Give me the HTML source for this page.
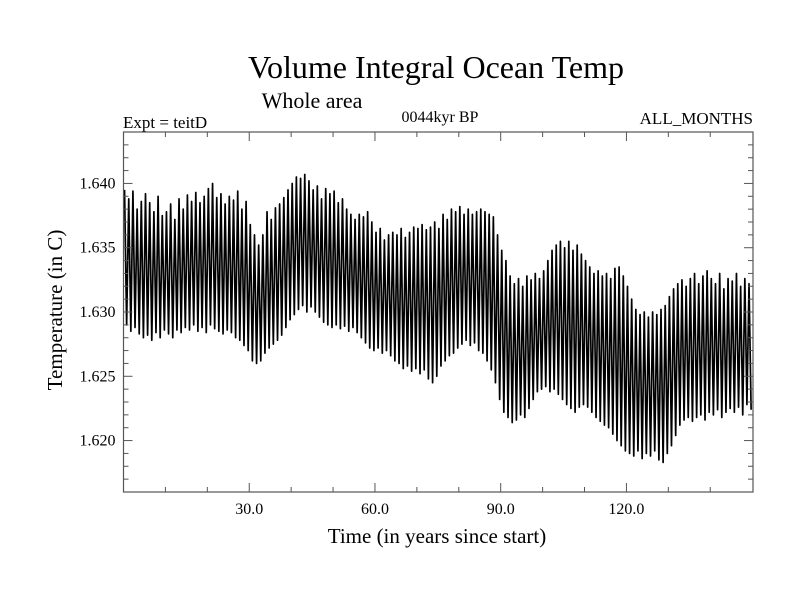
<!DOCTYPE html>
<html><head><meta charset="utf-8"><style>
body{margin:0;background:#fff;}
svg{display:block;font-family:"Liberation Serif",serif;}
</style></head><body>
<svg id="chart" width="800" height="600">
<text x="436" y="78" font-size="32" text-anchor="middle">Volume Integral Ocean Temp</text>
<text x="312" y="108" font-size="22" text-anchor="middle">Whole area</text>
<text x="123" y="128" font-size="17">Expt = teitD</text>
<text x="440" y="122" font-size="16" text-anchor="middle">0044kyr BP</text>
<text x="753" y="124" font-size="17" text-anchor="end">ALL_MONTHS</text>
<text x="437" y="543" font-size="21" text-anchor="middle">Time (in years since start)</text>
<text transform="translate(62,310) rotate(-90)" font-size="21" text-anchor="middle">Temperature (in C)</text>
<g id="series"></g>
<g id="axes"></g>
</svg>
<script>
const yearMax=[1.6395,1.6388,1.6394,1.6380,1.6386,1.6392,1.6385,1.6378,1.6390,1.6375,1.6378,1.6384,1.6372,1.6388,1.6380,1.6391,1.6386,1.6393,1.6385,1.6390,1.6396,1.6400,1.6389,1.6392,1.6384,1.6390,1.6387,1.6394,1.6380,1.6386,1.6368,1.6360,1.6352,1.6360,1.6378,1.6372,1.6381,1.6384,1.6389,1.6395,1.6400,1.6405,1.6404,1.6407,1.6402,1.6395,1.6398,1.6388,1.6396,1.6392,1.6394,1.6385,1.6388,1.6380,1.6376,1.6372,1.6376,1.6374,1.6378,1.6370,1.6362,1.6365,1.6356,1.6360,1.6362,1.6360,1.6365,1.6358,1.6362,1.6366,1.6365,1.6368,1.6364,1.6366,1.6370,1.6365,1.6376,1.6372,1.6380,1.6378,1.6382,1.6376,1.6380,1.6376,1.6378,1.6380,1.6378,1.6376,1.6374,1.6360,1.6348,1.6340,1.6328,1.6322,1.6326,1.6320,1.6328,1.6325,1.6330,1.6326,1.6332,1.6340,1.6348,1.6352,1.6355,1.6350,1.6355,1.6348,1.6352,1.6345,1.6340,1.6335,1.6330,1.6332,1.6328,1.6330,1.6326,1.6334,1.6335,1.6328,1.6320,1.6310,1.6302,1.6298,1.6300,1.6296,1.6300,1.6298,1.6302,1.6305,1.6312,1.6318,1.6322,1.6325,1.6320,1.6326,1.6330,1.6322,1.6328,1.6332,1.6326,1.6322,1.6330,1.6318,1.6326,1.6324,1.6330,1.6320,1.6326,1.6322];
const yearMin=[1.6290,1.6285,1.6288,1.6283,1.6280,1.6282,1.6278,1.6284,1.6280,1.6286,1.6283,1.6280,1.6286,1.6284,1.6288,1.6286,1.6290,1.6285,1.6288,1.6284,1.6290,1.6287,1.6285,1.6283,1.6286,1.6284,1.6280,1.6278,1.6274,1.6270,1.6262,1.6260,1.6262,1.6268,1.6272,1.6275,1.6278,1.6282,1.6288,1.6294,1.6298,1.6302,1.6305,1.6300,1.6304,1.6300,1.6296,1.6292,1.6290,1.6288,1.6290,1.6287,1.6289,1.6285,1.6288,1.6284,1.6280,1.6276,1.6272,1.6270,1.6272,1.6268,1.6270,1.6266,1.6262,1.6260,1.6256,1.6258,1.6254,1.6256,1.6252,1.6255,1.6248,1.6245,1.6250,1.6258,1.6262,1.6266,1.6268,1.6272,1.6275,1.6278,1.6274,1.6276,1.6270,1.6268,1.6262,1.6255,1.6245,1.6232,1.6222,1.6218,1.6214,1.6216,1.6220,1.6218,1.6225,1.6232,1.6238,1.6240,1.6242,1.6238,1.6240,1.6236,1.6232,1.6228,1.6225,1.6222,1.6226,1.6228,1.6226,1.6222,1.6218,1.6215,1.6212,1.6210,1.6205,1.6200,1.6196,1.6192,1.6190,1.6188,1.6192,1.6186,1.6190,1.6188,1.6192,1.6185,1.6183,1.6190,1.6196,1.6204,1.6212,1.6216,1.6218,1.6215,1.6218,1.6220,1.6216,1.6222,1.6220,1.6224,1.6218,1.6222,1.6225,1.6222,1.6226,1.6220,1.6228,1.6224];
const xTickValues=[30,60,90,120];
const xTickLabels=["30.0","60.0","90.0","120.0"];
const yTickValues=[1.620,1.625,1.630,1.635,1.640];
const yTickLabels=["1.620","1.625","1.630","1.635","1.640"];

const NS="http://www.w3.org/2000/svg";
const L=123.5,R=753,T=132,B=492;
const X0=0,X1=150.2,Y0=1.616,Y1=1.644;
const xs=v=>L+(v-X0)/(X1-X0)*(R-L);
const ys=v=>B-(v-Y0)/(Y1-Y0)*(B-T);
function mk(tag,attrs,parent){const e=document.createElementNS(NS,tag);for(const k in attrs)e.setAttribute(k,attrs[k]);parent.appendChild(e);return e;}
const series=document.getElementById('series');
const axes=document.getElementById('axes');

let d="";
for(let i=0;i<yearMax.length;i++){
  d+=(i?"L":"M")+xs(i+0.25).toFixed(2)+","+ys(yearMax[i]).toFixed(2);
  d+="L"+xs(i+0.75).toFixed(2)+","+ys(yearMin[i]).toFixed(2);
}
const line=mk('path',{d:d,fill:'none',stroke:'#000','stroke-width':'1.7','stroke-linejoin':'round'},series);



const frame=mk('rect',{x:L,y:T,width:R-L,height:B-T,fill:'none',stroke:'#555','stroke-width':'1.2'},axes);



for(let v=10;v<150;v+=10){
  const major=v%30===0;const len=major?9:5;
  const x=xs(v);
  const t1=mk('line',{x1:x,x2:x,y1:B,y2:B-len,stroke:'#555','stroke-width':'1'},axes);
  
  
  const t2=mk('line',{x1:x,x2:x,y1:T,y2:T+len,stroke:'#555','stroke-width':'1'},axes);
  
  
}
xTickValues.forEach((v,i)=>{
  const t=mk('text',{x:xs(v),y:B+22,'font-size':'16','text-anchor':'middle'},axes);
  t.textContent=xTickLabels[i];
  
  
});
for(let k=0;k<=28;k++){
  const v=1.616+k*0.001;const major=Math.round(v*1000)%5===0;const len=major?9:5;
  const y=ys(v);
  if(y<T+1||y>B-1)continue;
  const t1=mk('line',{x1:L,x2:L+len,y1:y,y2:y,stroke:'#555','stroke-width':'1'},axes);
  
  
  const t2=mk('line',{x1:R,x2:R-len,y1:y,y2:y,stroke:'#555','stroke-width':'1'},axes);
  
  
}
yTickValues.forEach((v,i)=>{
  const t=mk('text',{x:L-8,y:ys(v)+5,'font-size':'16','text-anchor':'end'},axes);
  t.textContent=yTickLabels[i];
  
  
});
</script>
</body></html>
